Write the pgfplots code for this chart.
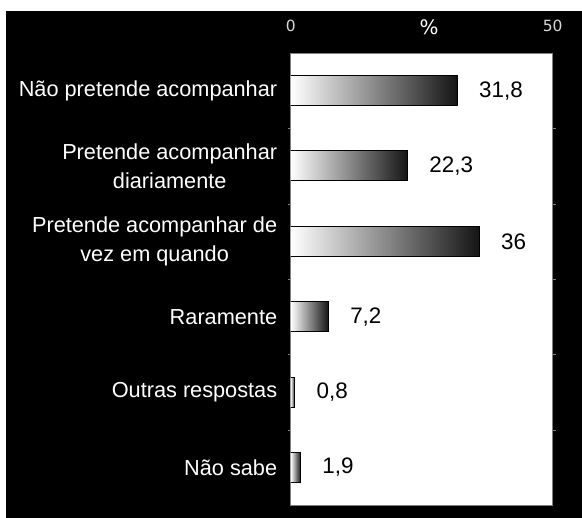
\documentclass[border=0pt]{standalone}
\usepackage{fontspec}
\setmainfont{Liberation Sans}
\newfontfamily\dejavu{DejaVu Sans}
\usepackage{pgfplots}
\pgfplotsset{compat=1.18}
\begin{document}
\begin{tikzpicture}[x=1bp,y=1bp]
\useasboundingbox (0,0) rectangle (582,518);
\fill[white] (0,0) rectangle (582,518);
\fill[black] (6,0) rectangle (582,507);
\begin{axis}[
  at={(290.7bp,13bp)}, anchor=south west,
  scale only axis, width=262bp, height=452bp,
  xbar, bar width=30bp, bar shift=0pt,
  /pgf/number format/assume math mode=true,
  xmin=0, xmax=50, ymin=-0.5, ymax=5.5, y dir=reverse,
  axis background/.style={fill=white},
  axis line style={draw=gray, line width=0.8bp},
  xtick={0,50}, xticklabel pos=right,
  xticklabel style={font=\dejavu\fontsize{15.5}{15.5}\selectfont, text=white!85!black, yshift=18bp},
  xlabel={\%},
  xlabel style={at={(axis description cs:0.528,1)}, anchor=center, yshift=25.5bp, font=\dejavu\fontsize{20}{20}\selectfont, text=white},
  ytick={0,1,2,3,4,5},
  yticklabels={{Não pretende acompanhar},{Pretende acompanhar\\diariamente},{Pretende acompanhar de\\vez em quando},{Raramente},{Outras respostas},{Não sabe}},
  yticklabel style={font=\fontsize{21.8}{29.5}\selectfont, text=white, align=center, xshift=-10bp},
  minor ytick={0.5,1.5,2.5,3.5,4.5},
  tick align=outside,
  major tick length=0pt, minor tick length=3bp,
  minor tick style={gray},
  major tick style={draw=none},
  nodes near coords={\pgfmathprintnumber[use comma]{\pgfplotspointmeta}},
  every node near coord/.style={font=\fontsize{22.5}{22.5}\selectfont, text=black, anchor=west, xshift=18bp},
  bars/.style={draw=black, line width=1bp, left color=white, right color=black!92},
]
\addplot[bars] coordinates {(31.8,0)};
\addplot[bars] coordinates {(22.3,1)};
\addplot[bars] coordinates {(36,2)};
\addplot[bars] coordinates {(7.2,3)};
\addplot[bars] coordinates {(0.8,4)};
\addplot[bars] coordinates {(1.9,5)};
\end{axis}
\end{tikzpicture}
\end{document}
